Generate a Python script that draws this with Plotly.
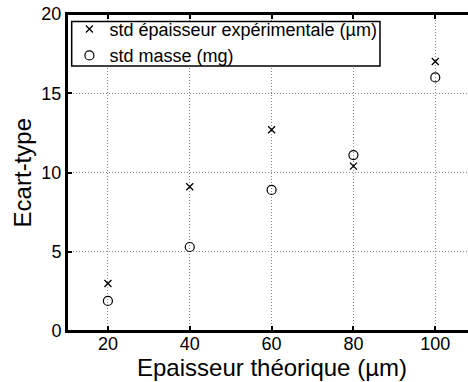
import plotly.graph_objects as go

thickness = [20, 40, 60, 80, 100]
std_thickness = [3.0, 9.1, 12.7, 10.4, 17.0]
std_mass = [1.9, 5.3, 8.9, 11.1, 16.0]
x_ticks = [20, 40, 60, 80, 100]
y_ticks = [0, 5, 10, 15, 20]

font = "Liberation Sans, Arial, sans-serif"

fig = go.Figure()
fig.add_trace(go.Scatter(
    x=thickness, y=std_thickness, mode="markers",
    name="std épaisseur expérimentale (µm)",
    marker=dict(symbol="x-thin", size=7, color="black",
                line=dict(color="black", width=1.3)),
))
fig.add_trace(go.Scatter(
    x=thickness, y=std_mass, mode="markers",
    name="std masse (mg)",
    marker=dict(symbol="circle-open", size=9, color="black",
                line=dict(color="black", width=1.2)),
))

axis_common = dict(
    showline=True, linecolor="black", linewidth=2,
    ticks="inside", ticklen=5, tickcolor="black", tickwidth=1.5,
    showgrid=True, gridcolor="#888888", griddash="1px,2px", gridwidth=1,
    zeroline=False, automargin=False,
    tickfont=dict(family=font, size=18, color="black"),
)

fig.update_xaxes(range=[10, 108], tickvals=x_ticks, mirror="ticks",
                 ticklabelstandoff=-5, **axis_common)
fig.update_yaxes(range=[0, 20], tickvals=y_ticks, **axis_common)

# legend box (white, bordered) drawn above the grid; legend entries sit on it
fig.add_shape(type="rect", xref="paper", yref="paper",
              x0=0.0117, x1=0.7805, y0=0.836, y1=0.976,
              line=dict(color="black", width=1.5), fillcolor="white", layer="above")

# frame lines (left, bottom, top) drawn above the grid
for x0, y0, x1, y1 in [(0, 0, 0, 1), (0, 0, 1, 0), (0, 1, 1, 1)]:
    fig.add_shape(type="line", xref="paper", yref="paper",
                  x0=x0, y0=y0, x1=x1, y1=y1,
                  line=dict(color="black", width=2), layer="above")

fig.add_annotation(text="Epaisseur théorique (µm)", xref="paper", yref="paper",
                   x=0.511, y=-0.116, xanchor="center", yanchor="middle",
                   showarrow=False, font=dict(family=font, size=24, color="black"))
fig.add_annotation(text="Ecart-type", xref="paper", yref="paper",
                   x=-0.11, y=0.5, xanchor="center", yanchor="middle", textangle=-90,
                   showarrow=False, font=dict(family=font, size=24, color="black"))

fig.update_layout(
    width=468, height=382,
    margin=dict(l=67, r=0, t=14, b=51),
    paper_bgcolor="white", plot_bgcolor="white",
    font=dict(family=font, color="black"),
    legend=dict(
        x=0.006, y=1.01, xanchor="left", yanchor="top",
        borderwidth=0, bgcolor="rgba(0,0,0,0)",
        font=dict(family=font, size=18, color="black"),
        tracegroupgap=0,
    ),
    showlegend=True,
)

fig.write_html("out.html", config={"displayModeBar": False},
               post_script="document.body.style.margin='0';")
